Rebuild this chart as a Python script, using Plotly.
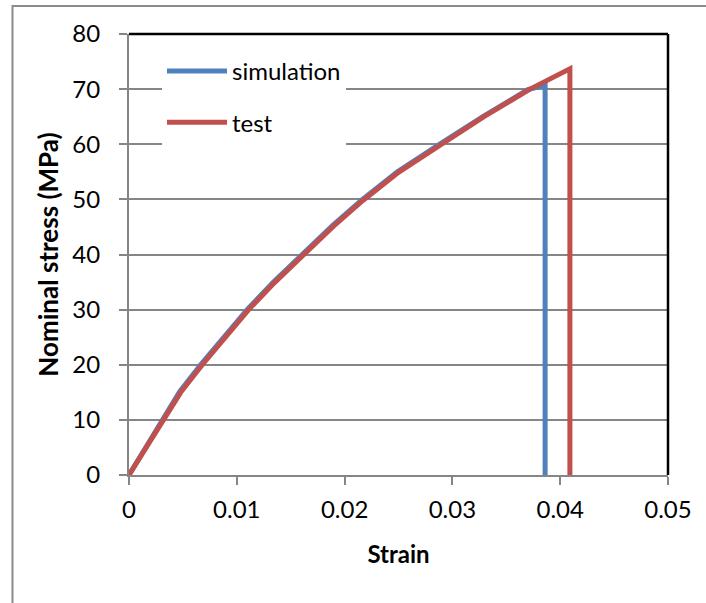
import plotly.graph_objects as go

# Data
sim_strain = [0, 0.0047, 0.0067, 0.0089, 0.0110, 0.0134, 0.0161, 0.0189, 0.0216, 0.0249,
              0.0289, 0.0329, 0.0370, 0.0386, 0.0386]
sim_stress = [0, 15.1, 20.1, 25.3, 30.1, 35.0, 40.1, 45.3, 49.9, 55.0,
              60.1, 65.1, 69.9, 70.7, 0]

test_strain = [0, 0.0048, 0.0068, 0.0090, 0.0111, 0.0135, 0.0162, 0.0190, 0.0217, 0.0250,
               0.0290, 0.0330, 0.0372, 0.0409, 0.0409]
test_stress = [0, 15.0, 20.0, 25.2, 30.0, 34.9, 40.0, 45.2, 49.8, 54.9,
               60.0, 65.1, 70.0, 73.7, 0]

x_ticks = [0, 0.01, 0.02, 0.03, 0.04, 0.05]
x_ticklabels = ["0", "0.01", "0.02", "0.03", "0.04", "0.05"]
y_ticks = [0, 10, 20, 30, 40, 50, 60, 70, 80]

BLUE = "#4F81BD"
RED = "#C0504D"
GRID = "#868686"
FONT = "Lato"

W, H = 706, 603
L, R, T, B = 129, 706 - 668, 34, 603 - 475
pw, ph = W - L - R, H - T - B

def px_x(p):
    return (p - L) / pw

def px_y(p):
    return (H - B - p) / ph

fig = go.Figure()
fig.add_trace(go.Scatter(x=sim_strain, y=sim_stress, mode="lines", name="simulation",
                         line=dict(color=BLUE, width=5), legendgroup="a"))
fig.add_trace(go.Scatter(x=test_strain, y=test_stress, mode="lines", name="test",
                         line=dict(color=RED, width=5), legendgroup="b"))

fig.update_layout(
    width=W, height=H,
    margin=dict(l=L, r=R, t=T, b=B, autoexpand=False),
    paper_bgcolor="white", plot_bgcolor="white",
    font=dict(family=FONT, size=24, color="black"),
    showlegend=True,
    legend=dict(x=px_x(162), y=px_y(49), xanchor="left", yanchor="top",
                bgcolor="white", borderwidth=0, tracegroupgap=17,
                itemwidth=60, font=dict(family=FONT, size=24, color="black")),
    xaxis=dict(range=[0, 0.05], tickvals=x_ticks, ticktext=x_ticklabels,
               ticks="outside", ticklen=8, tickwidth=1.5, tickcolor=GRID,
               showline=True, linecolor=GRID, linewidth=2,
               showgrid=False, zeroline=False, ticklabelstandoff=4,
               title=dict(text="<b>Strain</b>", standoff=24,
                          font=dict(family=FONT, size=24, color="black")),
               automargin=False, fixedrange=True),
    yaxis=dict(range=[0, 80], tickvals=y_ticks,
               ticks="outside", ticklen=8, tickwidth=1.5, tickcolor=GRID,
               showline=True, linecolor=GRID, linewidth=2,
               showgrid=True, gridcolor=GRID, gridwidth=1.5, zeroline=False,
               ticklabelstandoff=14,
               title=dict(text="<b>Nominal stress (MPa)</b>", standoff=6,
                          font=dict(family=FONT, size=26, color="black")),
               automargin=False, fixedrange=True),
    shapes=[
        # outer chart border
        dict(type="rect", xref="paper", yref="paper",
             x0=px_x(12.5), x1=px_x(760), y0=px_y(660), y1=px_y(6),
             line=dict(color="#8C8C8C", width=2), fillcolor="rgba(0,0,0,0)", layer="below"),
        # plot area top and right border (black)
        dict(type="line", xref="paper", yref="paper", x0=0, x1=1, y0=1, y1=1,
             line=dict(color="black", width=2.5)),
        dict(type="line", xref="paper", yref="paper", x0=1, x1=1, y0=0, y1=1,
             line=dict(color="black", width=2.5)),
    ],
)

fig.write_html("out.html")
